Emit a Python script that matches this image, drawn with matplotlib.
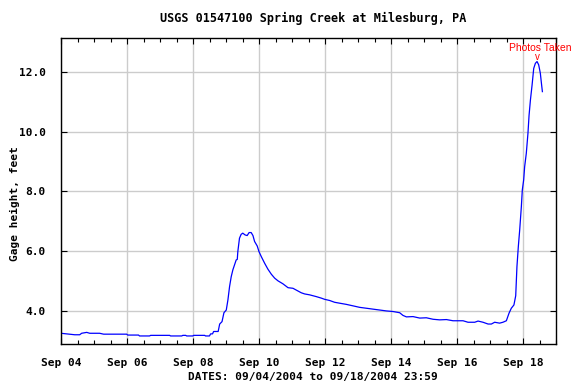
import matplotlib
matplotlib.use("Agg")
import matplotlib.pyplot as plt
import matplotlib.dates as mdates
import pandas as pd

# Hours after 2004-09-04 00:00 and gage height (feet)
hours = [0.0, 10.0, 13.6, 15.0, 18.7, 20.9, 28.1, 31.0, 47.8, 48.5, 56.4, 57.1, 64.4, 65.2,
         79.0, 79.7, 87.8, 88.6, 90.7, 91.4, 95.8, 96.5, 104.5, 105.1, 108.0, 108.8, 110.2,
         111.0, 114.3, 115.4, 117.1, 118.5, 120.2, 121.4, 122.6, 123.8, 125.0, 127.4, 128.2,
         128.6, 129.8, 131.0, 132.2, 133.9, 135.4, 136.8, 138.3, 139.6, 140.8, 142.7, 144.0,
         145.7, 148.1, 150.5, 153.0, 155.4, 157.8, 161.4, 165.1, 168.7, 171.1, 174.7, 177.2,
         180.8, 185.7, 189.3, 191.7, 195.4, 199.0, 202.6, 207.5, 212.4, 217.2, 222.1, 226.9,
         231.8, 236.6, 241.5, 246.3, 248.7, 251.2, 256.0, 260.9, 265.7, 270.6, 275.4, 280.3,
         285.1, 292.4, 296.0, 300.9, 303.3, 306.9, 310.6, 313.0, 315.4, 319.0, 321.4, 323.9,
         325.8, 327.5, 329.4, 330.7, 331.6, 332.6, 333.6, 334.8, 335.5, 336.5, 337.2, 338.4,
         339.6, 340.4, 341.4, 342.6, 343.8, 345.0, 346.2, 347.4, 348.6, 349.4, 350.1]
height = [3.24, 3.19, 3.19, 3.24, 3.27, 3.24, 3.24, 3.21, 3.21, 3.18, 3.18, 3.15, 3.15, 3.17,
          3.17, 3.15, 3.15, 3.17, 3.17, 3.15, 3.15, 3.17, 3.17, 3.15, 3.15, 3.22, 3.22,
          3.30, 3.30, 3.55, 3.63, 3.93, 4.02, 4.36, 4.81, 5.14, 5.37, 5.70, 5.72,
          5.98, 6.43, 6.56, 6.60, 6.54, 6.52, 6.62, 6.62, 6.52, 6.32, 6.17, 5.98,
          5.81, 5.59, 5.39, 5.22, 5.09, 5.00, 4.90, 4.77, 4.75, 4.69, 4.60, 4.56,
          4.53, 4.47, 4.42, 4.38, 4.34, 4.28, 4.25, 4.21, 4.16, 4.11, 4.08, 4.05,
          4.02, 3.99, 3.97, 3.93, 3.84, 3.79, 3.80, 3.75, 3.76, 3.71, 3.69, 3.70,
          3.66, 3.66, 3.61, 3.61, 3.65, 3.61, 3.55, 3.55, 3.61, 3.58, 3.61, 3.66,
          3.91, 4.08, 4.19, 4.50, 5.48, 6.15, 6.71, 7.49, 8.05, 8.39, 8.83, 9.28,
          9.95, 10.55, 11.07, 11.57, 12.13, 12.30, 12.36, 12.25, 11.97, 11.63, 11.35]

start = pd.Timestamp("2004-09-04 00:00")
end = pd.Timestamp("2004-09-19 00:00")
times = [start + pd.Timedelta(hours=h) for h in hours]

title = "USGS 01547100 Spring Creek at Milesburg, PA"
ylabel = "Gage height, feet"
xlabel = "DATES: 09/04/2004 to 09/18/2004 23:59"
yticks = [4.0, 6.0, 8.0, 10.0, 12.0]
note_text = "Photos Taken"
note_time = start + pd.Timedelta(hours=348.2)
note_marker_time = start + pd.Timedelta(hours=346.4)

mono = {"family": "DejaVu Sans Mono", "weight": "bold"}

fig = plt.figure(figsize=(5.76, 3.84), dpi=100)
ax = fig.add_axes([61 / 576, 40 / 384, 495 / 576, 306.3 / 384])

ax.plot(times, height, color="#0000ff", lw=0.9)

ax.set_xlim(start, end)
ax.set_ylim(2.88, 13.16)
ax.set_yticks(yticks)
ax.yaxis.set_major_formatter(matplotlib.ticker.FormatStrFormatter("%.1f"))
ax.xaxis.set_major_locator(mdates.DayLocator(bymonthday=range(4, 31, 2)))
ax.xaxis.set_minor_locator(mdates.HourLocator(byhour=[0, 12]))
ax.xaxis.set_major_formatter(mdates.DateFormatter("%b %d"))

ax.grid(True, which="major", color="#cccccc", lw=1.0)
ax.set_axisbelow(True)
ax.tick_params(which="both", direction="in", top=True, right=True, color="black")
ax.tick_params(which="major", length=4, width=0.8)
ax.tick_params(which="minor", length=3, width=0.8)
ax.tick_params(axis="x", which="major", pad=10)
ax.tick_params(axis="y", which="major", pad=11)
for lab in ax.get_xticklabels() + ax.get_yticklabels():
    lab.set_fontfamily("DejaVu Sans Mono")
    lab.set_fontweight("bold")
    lab.set_fontsize(8)
for sp in ax.spines.values():
    sp.set_linewidth(1.0)
    sp.set_color("black")

fig.text(313 / 576, 1 - 18 / 384, title, ha="center", va="center", fontsize=8.5, **mono)
fig.text(313 / 576, 1 - 377 / 384, xlabel, ha="center", va="center", fontsize=8, **mono)
fig.text(15 / 576, 1 - 204 / 384, ylabel, ha="center", va="center", rotation=90, fontsize=8, **mono)

ax.text(note_time, 12.82, note_text, color="red", ha="center", va="center",
        fontsize=7.5, family="Liberation Sans", clip_on=False)
ax.text(note_marker_time, 12.50, "v", color="red", ha="center", va="center",
        fontsize=7, family="Liberation Sans", clip_on=False)

fig.savefig("out.png", dpi=100)
